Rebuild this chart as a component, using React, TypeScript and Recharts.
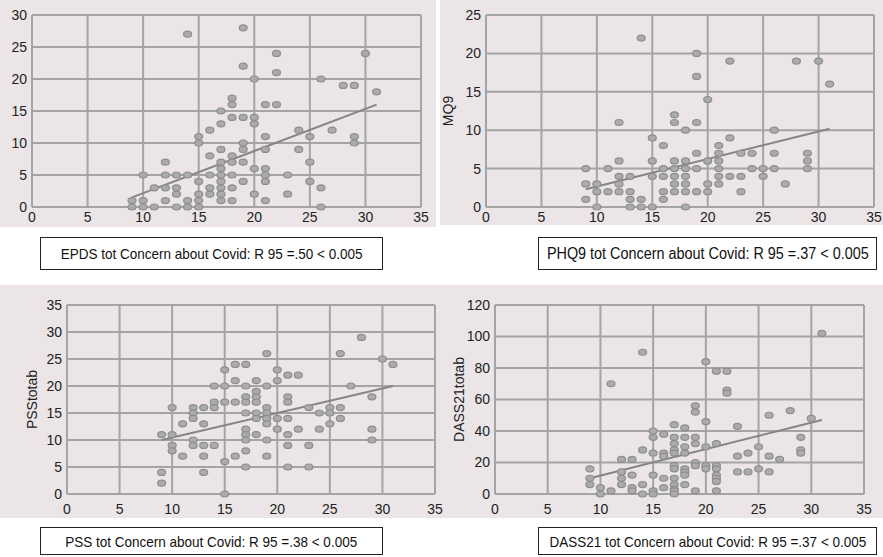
import { CartesianGrid, ReferenceLine, Scatter, ScatterChart, XAxis, YAxis } from "recharts"

// concern about covid (x) vs score (y)

const xTicks = [0, 5, 10, 15, 20, 25, 30, 35]

const epdsTicks = [0, 5, 10, 15, 20, 25, 30]
const epdsPoints = [
  [14, 27], [19, 28], [19, 22], [22, 24], [22, 21], [20, 20], [26, 20], [28, 19], [29, 19], [30, 24],
  [31, 18], [18, 17], [18, 16], [21, 16], [22, 16], [17, 15], [17, 13], [18, 14], [19, 14], [20, 14],
  [20, 13], [16, 12], [24, 12], [27, 12], [15, 11], [15, 10], [21, 11], [25, 11], [29, 11], [29, 10],
  [19, 10], [19, 9], [17, 9], [21, 9], [24, 9], [16, 8], [18, 8], [18, 7], [17, 7], [19, 7],
  [25, 7], [12, 7], [17, 6], [20, 6], [21, 6], [10, 5], [12, 5], [13, 5], [14, 5], [16, 5],
  [17, 5], [18, 5], [21, 5], [23, 5], [15, 4], [17, 4], [19, 4], [21, 4], [25, 4], [11, 3],
  [12, 3], [13, 3], [16, 3], [17, 3], [18, 3], [26, 3], [13, 2], [15, 2], [16, 2], [17, 2],
  [20, 2], [23, 2], [9, 1], [10, 1], [12, 1], [14, 1], [15, 1], [17, 1], [18, 1], [21, 1],
  [9, 0], [10, 0], [11, 0], [13, 0], [14, 0], [15, 0], [26, 0],
]
const epdsTrend = [[9, 1.5], [31, 16]]

const phqTicks = [0, 5, 10, 15, 20, 25]
const phqPoints = [
  [14, 22], [19, 20], [19, 17], [22, 19], [28, 19], [30, 19], [31, 16], [20, 14], [17, 12], [17, 11],
  [12, 11], [19, 11], [18, 10], [26, 10], [15, 9], [22, 9], [16, 8], [21, 8], [19, 7], [21, 7],
  [23, 7], [24, 7], [26, 7], [29, 7], [12, 6], [15, 6], [17, 6], [18, 6], [20, 6], [21, 6],
  [29, 6], [9, 5], [11, 5], [16, 5], [17, 5], [18, 5], [19, 5], [21, 5], [24, 5], [25, 5],
  [26, 5], [29, 5], [12, 4], [13, 4], [15, 4], [16, 4], [17, 4], [18, 4], [21, 4], [22, 4],
  [23, 4], [25, 4], [9, 3], [10, 3], [12, 3], [17, 3], [18, 3], [20, 3], [21, 3], [27, 3],
  [10, 2], [11, 2], [12, 2], [13, 2], [16, 2], [17, 2], [18, 2], [19, 2], [20, 2], [23, 2],
  [9, 1], [13, 1], [14, 1], [16, 1], [10, 0], [13, 0], [14, 0], [15, 0], [18, 0],
]
const phqTrend = [[9, 2.3], [31, 10.2]]

const pssTicks = [0, 5, 10, 15, 20, 25, 30, 35]
const pssPoints = [
  [19, 26], [28, 29], [26, 26], [30, 25], [31, 24], [16, 24], [17, 24], [15, 23], [20, 23], [21, 22],
  [22, 22], [27, 20], [14, 20], [15, 20], [17, 20], [19, 20], [20, 21], [16, 21], [18, 21], [18, 19],
  [17, 18], [18, 18], [21, 18], [29, 18], [14, 17], [15, 17], [16, 17], [17, 17], [18, 17], [21, 17],
  [10, 16], [12, 16], [13, 16], [14, 16], [19, 16], [25, 16], [26, 16], [23, 16], [12, 15], [17, 15],
  [18, 15], [19, 15], [24, 15], [25, 15], [12, 14], [18, 14], [19, 14], [20, 14], [21, 14], [26, 14],
  [11, 13], [13, 13], [19, 13], [25, 13], [17, 12], [20, 12], [22, 12], [24, 12], [29, 12], [9, 11],
  [10, 11], [17, 11], [18, 11], [21, 11], [12, 10], [17, 10], [19, 10], [29, 10], [10, 9], [12, 9],
  [13, 9], [14, 9], [21, 9], [23, 9], [10, 8], [17, 8], [11, 7], [13, 7], [16, 7], [19, 7],
  [15, 6], [17, 5], [21, 5], [23, 5], [9, 4], [13, 4], [9, 2], [15, 0],
]
const pssTrend = [[9, 10], [31, 20]]

const dassTicks = [0, 20, 40, 60, 80, 100, 120]
const dassPoints = [
  [31, 102], [14, 90], [11, 70], [20, 84], [21, 78], [22, 78], [22, 66], [22, 64], [19, 56], [19, 52],
  [28, 53], [26, 50], [30, 48], [20, 46], [17, 44], [18, 42], [23, 43], [15, 40], [16, 38], [15, 36],
  [17, 36], [18, 36], [19, 36], [29, 36], [17, 32], [19, 32], [21, 32], [18, 30], [20, 30], [25, 30],
  [14, 28], [29, 28], [17, 28], [15, 26], [16, 26], [17, 26], [18, 26], [24, 26], [29, 26], [16, 24],
  [23, 24], [26, 24], [12, 22], [13, 22], [27, 22], [19, 20], [17, 18], [19, 18], [20, 18], [21, 18],
  [9, 16], [17, 16], [18, 16], [20, 16], [21, 16], [25, 16], [12, 14], [18, 14], [23, 14], [24, 14],
  [26, 14], [13, 12], [15, 12], [18, 12], [21, 12], [9, 10], [12, 10], [16, 10], [17, 10], [21, 10],
  [21, 8], [9, 6], [12, 6], [14, 6], [17, 6], [18, 6], [10, 4], [13, 4], [16, 4], [17, 3],
  [11, 2], [13, 2], [15, 2], [17, 2], [19, 2], [21, 2], [10, 0], [14, 0], [15, 0], [17, 0],
]
const dassTrend = [[9, 10], [31, 47]]

const font = "'Liberation Sans', Arial, sans-serif"
const tickStyle = { fill: "#222", fontSize: 14, fontFamily: font }

function Dot(props: any) {
  return (
    <ellipse cx={props.cx} cy={props.cy} rx={4} ry={3} fill="#ababab" stroke="#8e8e8e" strokeWidth={1.2} />
  )
}

function Panel(props: any) {
  const { points, trend, yTicks, yLabel, width, height, margin, yWidth, xHeight } = props
  const data = points.map((p: number[]) => ({ x: p[0], y: p[1] }))
  return (
    <ScatterChart width={width} height={height} margin={margin}>
      <CartesianGrid stroke="#a4a4a4" strokeWidth={2} />
      <XAxis
        type="number"
        dataKey="x"
        domain={[0, 35]}
        ticks={xTicks}
        interval={0}
        height={xHeight}
        axisLine={false}
        tickLine={false}
        tickSize={3}
        tickMargin={props.xGap}
        tick={tickStyle}
      />
      <YAxis
        type="number"
        dataKey="y"
        domain={[yTicks[0], yTicks[yTicks.length - 1]]}
        ticks={yTicks}
        interval={0}
        width={yWidth}
        axisLine={false}
        tickLine={false}
        tickSize={3}
        tickMargin={2}
        tick={tickStyle}
        label={
          yLabel
            ? {
                value: yLabel,
                angle: -90,
                position: "insideLeft",
                offset: props.labelX,
                style: { textAnchor: "middle", fill: "#222", fontSize: 14, fontFamily: font },
              }
            : undefined
        }
      />
      <Scatter data={data} shape={Dot} isAnimationActive={false} />
      <ReferenceLine
        segment={[
          { x: trend[0][0], y: trend[0][1] },
          { x: trend[1][0], y: trend[1][1] },
        ]}
        stroke="#858585"
        strokeWidth={2}
      />
    </ScatterChart>
  )
}

function Caption(props: any) {
  return (
    <div
      style={{
        position: "absolute",
        left: props.left,
        top: props.top,
        width: props.width,
        height: props.height,
        boxSizing: "border-box",
        border: "1px solid #222",
        background: "#fff",
        display: "flex",
        alignItems: "center",
        justifyContent: "center",
        fontFamily: font,
        fontSize: props.size,
        color: "#111",
        whiteSpace: "nowrap",
      }}
    >
      <span style={{ display: "inline-block", transform: `scaleX(${props.squeeze})` }}>{props.text}</span>
    </div>
  )
}

const bg = "#ebe5e8"

export default function App() {
  return (
    <div style={{ position: "absolute", left: 0, top: 0, width: 883, height: 557, background: "#fff", overflow: "hidden" }}>
      <div style={{ position: "absolute", left: 0, top: 0, width: 436, height: 227, background: bg }} />
      <div style={{ position: "absolute", left: 440, top: 0, width: 443, height: 225, background: bg }} />
      <div style={{ position: "absolute", left: 0, top: 285, width: 883, height: 233, background: bg }} />

      <div style={{ position: "absolute", left: 0, top: 0 }}>
        <Panel
          points={epdsPoints}
          trend={epdsTrend}
          yTicks={epdsTicks}
          width={440}
          height={227}
          margin={{ top: 15, right: 19, left: 0, bottom: 0 }}
          yWidth={32}
          xHeight={20}
          xGap={2}
        />
      </div>
      <div style={{ position: "absolute", left: 438, top: 0 }}>
        <Panel
          points={phqPoints}
          trend={phqTrend}
          yTicks={phqTicks}
          yLabel="MQ9"
          labelX={10}
          width={445}
          height={227}
          margin={{ top: 15, right: 9, left: 0, bottom: 0 }}
          yWidth={48}
          xHeight={20}
          xGap={2}
        />
      </div>
      <div style={{ position: "absolute", left: 0, top: 283 }}>
        <Panel
          points={pssPoints}
          trend={pssTrend}
          yTicks={pssTicks}
          yLabel="PSStotab"
          labelX={32}
          width={450}
          height={235}
          margin={{ top: 22, right: 15, left: 0, bottom: 0 }}
          yWidth={67}
          xHeight={24}
          xGap={7}
        />
      </div>
      <div style={{ position: "absolute", left: 440, top: 283 }}>
        <Panel
          points={dassPoints}
          trend={dassTrend}
          yTicks={dassTicks}
          yLabel="DASS21totab"
          labelX={19}
          width={443}
          height={235}
          margin={{ top: 22, right: 19, left: 0, bottom: 0 }}
          yWidth={55}
          xHeight={24}
          xGap={7}
        />
      </div>

      <Caption left={40} top={237} width={343} height={33} size={15} squeeze={0.9} text="EPDS tot Concern about Covid: R 95 =.50 < 0.005" />
      <Caption left={538} top={237} width={339} height={33} size={16} squeeze={0.9} text="PHQ9 tot Concern about Covid: R 95 =.37 < 0.005" />
      <Caption left={40} top={527} width={343} height={28} size={15} squeeze={0.9} text="PSS tot Concern about Covid: R 95 =.38 < 0.005" />
      <Caption left={538} top={527} width={339} height={28} size={15} squeeze={0.9} text="DASS21 tot Concern about Covid: R 95 =.37 < 0.005" />
    </div>
  )
}
